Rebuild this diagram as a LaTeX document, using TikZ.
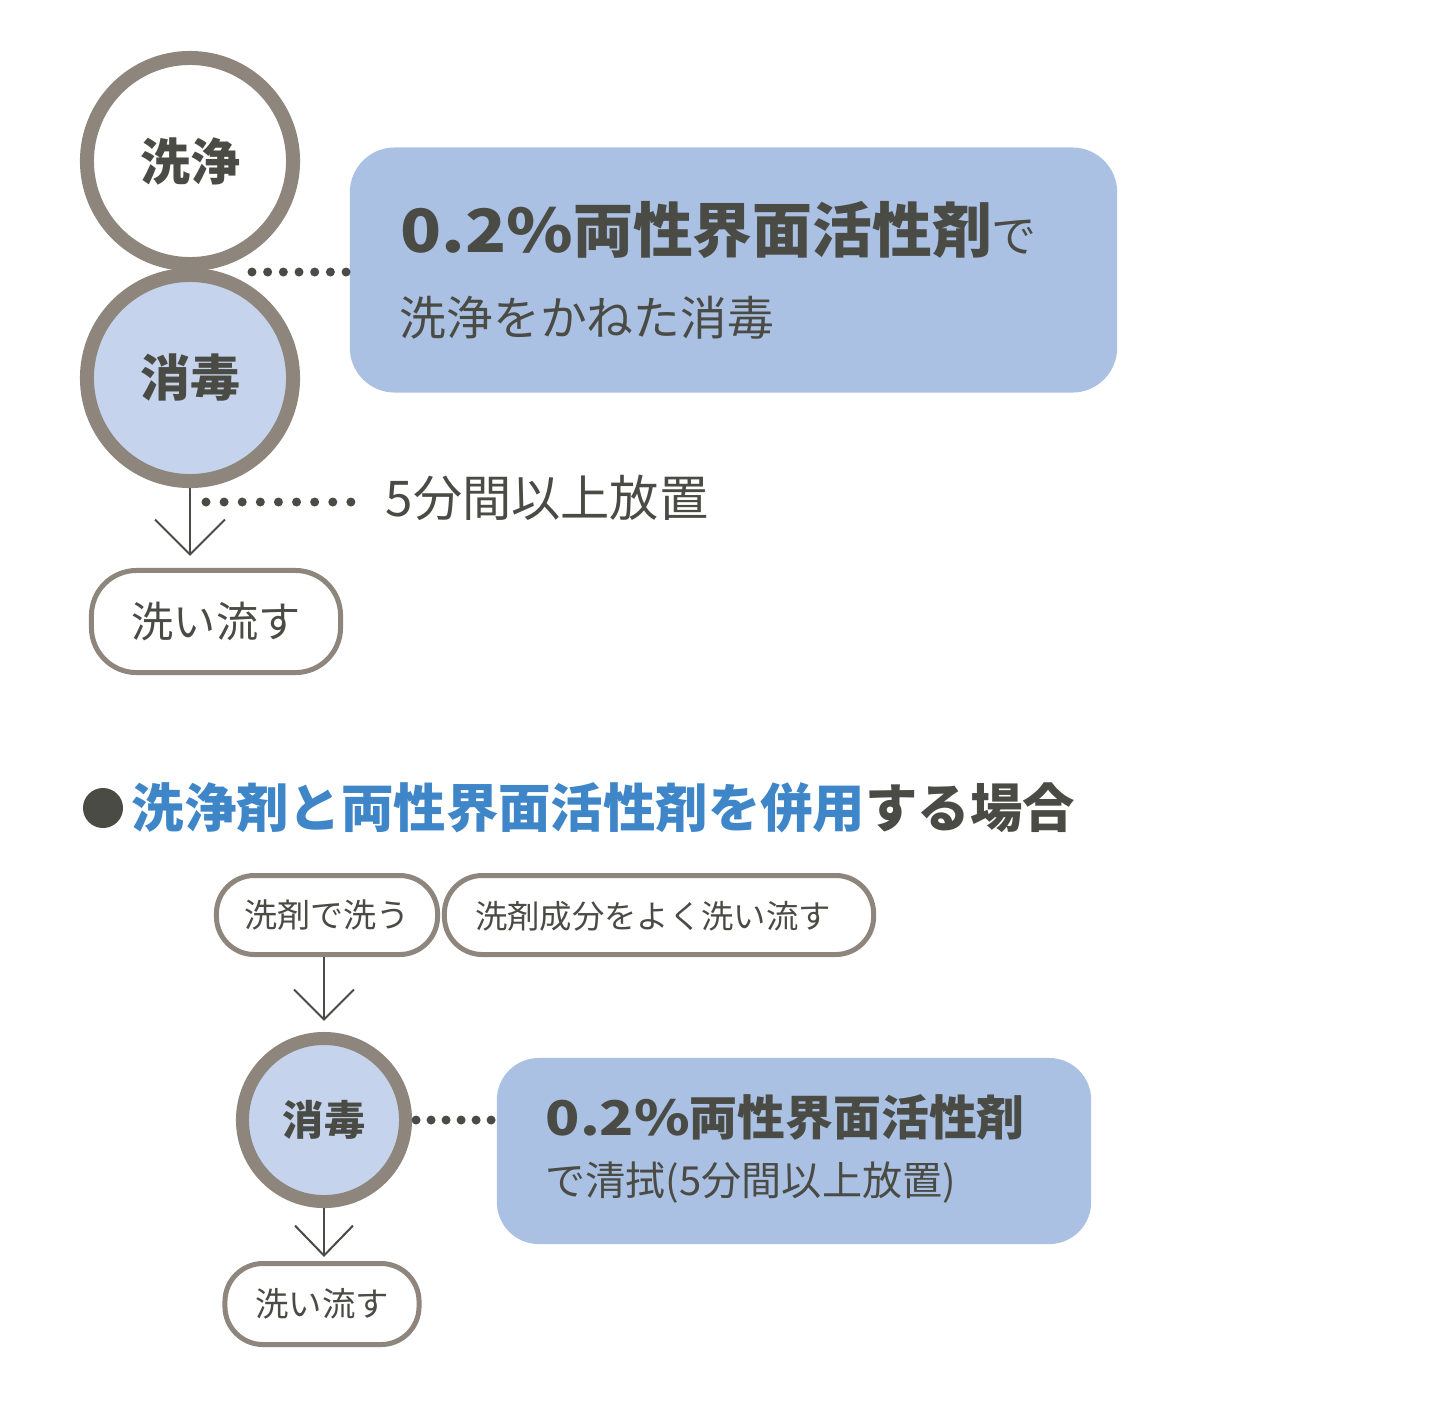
\documentclass[tikz,border=0pt]{standalone}
\usepackage{fontspec}
\usepackage{tikz}
\usetikzlibrary{arrows.meta}
\newfontfamily\jp{Noto Sans CJK JP}
\definecolor{ringgray}{RGB}{142,134,124}
\definecolor{ink}{RGB}{74,75,69}
\definecolor{paleblue}{RGB}{197,212,236}
\definecolor{boxblue}{RGB}{171,193,227}
\definecolor{headblue}{RGB}{62,134,200}

\begin{document}
\begin{tikzpicture}[x=0.01cm,y=-0.01cm,
    every node/.style={font=\jp,text=ink},
    stepcircle/.style={circle,draw=ringgray,inner sep=0pt},
    pill/.style={draw=ringgray,line width=0.05cm,fill=white,inner sep=0pt},
    note/.style={fill=boxblue,rounded corners=0.45cm},
    txt/.style={anchor=west,inner sep=0pt},
    flow/.style={draw=ink,line width=0.02cm},
    dotline/.style={draw=ink,line width=0.09cm,line cap=round}]
  \useasboundingbox (0,0) rectangle (1440,1420);
  \node[stepcircle,fill=white,line width=0.14cm,minimum size=2.06cm] (wash) at (190,161) {\bfseries\fontsize{14.2}{16}\selectfont 洗浄};
  \node[stepcircle,fill=paleblue,line width=0.14cm,minimum size=2.06cm] (dis) at (190,378) {\bfseries\fontsize{14.2}{16}\selectfont 消毒};
  \node[note,minimum width=7.67cm,minimum height=2.45cm] (note) at (733.5,270) {};
  \node[txt] (notea) at (400,230) {\bfseries\fontsize{17}{20}\selectfont \scalebox{1.13}[1]{0.2\%}両性界面活性剤{\mdseries\fontsize{12.8}{15}\selectfont で}};
  \node[txt] (noteb) at (399,318) {\fontsize{13.3}{16}\selectfont 洗浄をかねた消毒};
  \coordinate (join) at (252,272);
  \draw[dotline,dash pattern=on 0pt off 0.1567cm] (join) -- (join -| note.west);
  \node[pill,minimum width=2.49cm,minimum height=1.02cm,rounded corners=0.45cm] (rinse) at (216,621.5) {\fontsize{12}{14}\selectfont 洗い流す};
  \draw[flow,-{Straight Barb[length=0.35cm,width=0.7cm]},shorten >=0.12cm] (dis.south) -- (dis.south |- rinse.north);
  \node[txt] (wait) at (385,498) {\fontsize{14}{16}\selectfont 5分間以上放置};
  \coordinate (tap) at (206,502);
  \draw[dotline,dash pattern=on 0pt off 0.181cm,shorten >=0.3cm] (tap) -- (tap -| wait.west);

  \node[circle,fill=ink,minimum size=0.4cm,inner sep=0pt] (bullet) at (103,808) {};
  \node[txt] (title) at (131,808) {\bfseries\fontsize{14.9}{18}\selectfont\textcolor{headblue}{洗浄剤と両性界面活性剤を併用}する場合};
  \node[pill,minimum width=2.21cm,minimum height=0.79cm,rounded corners=0.38cm] (scrub) at (327,915) {\fontsize{9.4}{11}\selectfont 洗剤で洗う};
  \node[pill,minimum width=4.29cm,minimum height=0.79cm,rounded corners=0.38cm,text depth=0pt] (flush) at (659,915) {\fontsize{9.2}{11}\selectfont\hspace*{-0.12cm}洗剤成分をよく洗い流す};
  \node[stepcircle,fill=paleblue,line width=0.13cm,minimum size=1.63cm] (dis2) at (324,1120) {\bfseries\fontsize{11.7}{14}\selectfont 消毒};
  \draw[flow,-{Straight Barb[length=0.3cm,width=0.6cm]},shorten >=0.11cm] (dis2 |- scrub.south) -- (dis2.north);
  \node[note,minimum width=5.94cm,minimum height=1.86cm,rounded corners=0.42cm] (note2) at (794,1151) {};
  \node[txt] (note2a) at (545,1117) {\bfseries\fontsize{13.6}{16}\selectfont \scalebox{1.18}[1]{0.2\%}両性界面活性剤};
  \node[txt] (note2b) at (545,1183) {\fontsize{11.4}{14}\selectfont で清拭(5分間以上放置)};
  \draw[dotline,dash pattern=on 0pt off 0.15cm,shorten <=0.04cm] (dis2.east) -- (dis2.east -| note2.west);
  \node[pill,minimum width=1.94cm,minimum height=0.81cm,rounded corners=0.38cm] (rinse2) at (322,1304) {\fontsize{9.5}{11}\selectfont 洗い流す};
  \draw[flow,-{Straight Barb[length=0.3cm,width=0.58cm]},shorten >=0.04cm] (dis2.south) -- (dis2.south |- rinse2.north);
\end{tikzpicture}
\end{document}
